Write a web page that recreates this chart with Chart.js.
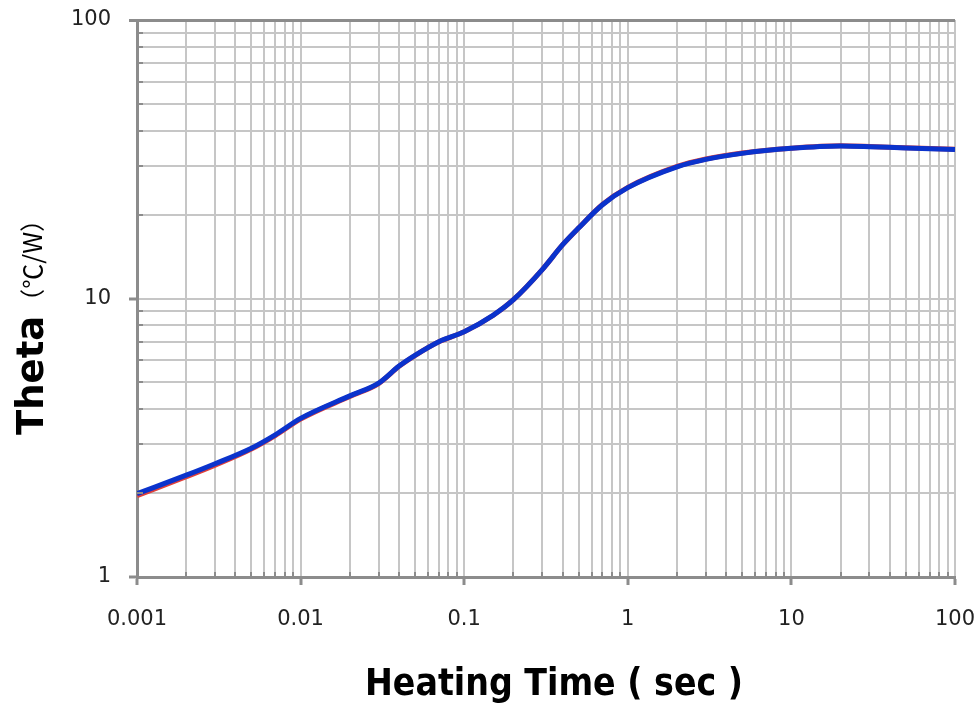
<!DOCTYPE html>
<html>
<head>
<meta charset="utf-8">
<script src="https://cdn.jsdelivr.net/npm/chart.js@4/dist/chart.umd.min.js"></script>
<style>
  html, body { margin: 0; padding: 0; background: #fff; }
</style>
</head>
<body>
<canvas id="thetaChart" width="980" height="707"></canvas>
<script>
// values (log-log)
const heatingTime = [0.001, 0.002, 0.003, 0.005, 0.007, 0.01, 0.02, 0.03, 0.04, 0.05, 0.07, 0.1, 0.15, 0.2, 0.3, 0.4, 0.5, 0.7, 1, 2, 3, 5, 10, 20, 30, 50, 100];
const thetaBlue = [1.99, 2.32, 2.55, 2.9, 3.24, 3.71, 4.47, 4.97, 5.72, 6.25, 7.0, 7.6, 8.7, 9.9, 12.7, 15.6, 17.9, 21.7, 25.0, 29.7, 31.6, 33.2, 34.6, 35.3, 35.1, 34.7, 34.3];
const thetaRed = [1.96, 2.29, 2.52, 2.88, 3.22, 3.69, 4.45, 4.95, 5.71, 6.24, 6.99, 7.59, 8.69, 9.9, 12.7, 15.6, 17.9, 21.75, 25.05, 29.8, 31.7, 33.3, 34.65, 35.35, 35.15, 34.75, 34.35];
const xTickLabels = ["0.001", "0.01", "0.1", "1", "10", "100"];
const yTickLabels = ["1", "10", "100"];
const xTitle = "Heating Time ( sec )";
const yTitle = "Theta";
const yUnit = "（℃/W）";

const AXIS = "#8c8c8c";
const GRID = "#c6c6c6";

function decadeLabel(v, labels) {
  const hit = labels.find(l => Math.abs(Math.log10(v) - Math.log10(Number(l))) < 1e-6);
  return hit === undefined ? null : hit;
}

// 1..9 per decade, between the labelled decades
function logTicks(labels) {
  const dec = labels.map(Number);
  const out = [];
  dec.forEach((d, i) => {
    out.push({ value: d });
    if (i < dec.length - 1) {
      for (let k = 2; k <= 9; k++) out.push({ value: d * k });
    }
  });
  return out;
}

const toPoints = ys => heatingTime.map((t, i) => ({ x: t, y: ys[i] }));

// little inward ticks on the axes + the axis titles
const extrasPlugin = {
  id: "extras",
  afterDraw(chart) {
    const { ctx, chartArea, scales } = chart;
    ctx.save();
    ctx.strokeStyle = AXIS;
    ctx.lineWidth = 2;
    scales.x.ticks.forEach(t => {
      if (decadeLabel(t.value, xTickLabels)) return;
      const px = Math.round(scales.x.getPixelForValue(t.value));
      ctx.beginPath();
      ctx.moveTo(px, chartArea.bottom);
      ctx.lineTo(px, chartArea.bottom - 5);
      ctx.stroke();
    });
    scales.y.ticks.forEach(t => {
      if (decadeLabel(t.value, yTickLabels)) return;
      const py = Math.round(scales.y.getPixelForValue(t.value));
      ctx.beginPath();
      ctx.moveTo(chartArea.left, py);
      ctx.lineTo(chartArea.left + 6, py);
      ctx.stroke();
    });

    ctx.fillStyle = "#000";
    ctx.textBaseline = "alphabetic";
    ctx.textAlign = "center";
    ctx.font = 'bold 37px "DejaVu Sans Condensed", "DejaVu Sans"';
    ctx.fillText(xTitle, (chartArea.left + chartArea.right) / 2 + 8, chartArea.bottom + 118);

    ctx.translate(43, chartArea.bottom - 142);
    ctx.rotate(-Math.PI / 2);
    ctx.textAlign = "left";
    ctx.font = 'bold 37px "DejaVu Sans"';
    ctx.fillText(yTitle, 0, 0);
    const w = ctx.measureText(yTitle).width;
    ctx.font = '25px "Noto Sans CJK SC"';
    ctx.fillText(yUnit, w + 2, -1);
    ctx.restore();
  }
};

const tickFont = { family: "DejaVu Sans", size: 21 };

new Chart(document.getElementById("thetaChart").getContext("2d"), {
  type: "line",
  data: {
    datasets: [
      {
        label: "Theta",
        data: toPoints(thetaBlue),
        borderColor: "#0b33cc",
        borderWidth: 5,
        pointRadius: 0,
        cubicInterpolationMode: "monotone",
        order: 0
      },
      {
        label: "Theta (ref)",
        data: toPoints(thetaRed),
        borderColor: "#e0403a",
        borderWidth: 5,
        pointRadius: 0,
        cubicInterpolationMode: "monotone",
        order: 1
      }
    ]
  },
  options: {
    responsive: false,
    animation: false,
    devicePixelRatio: 1,
    layout: { padding: { top: 20, right: 25, left: 0, bottom: 0 } },
    plugins: {
      legend: { display: false },
      tooltip: { enabled: false }
    },
    scales: {
      x: {
        type: "logarithmic",
        min: Number(xTickLabels[0]),
        max: Number(xTickLabels[xTickLabels.length - 1]),
        afterBuildTicks: s => { s.ticks = logTicks(xTickLabels); },
        afterFit: s => { s.height = 130; s.paddingLeft = 0; s.paddingRight = 0; },
        border: { color: AXIS, width: 3 },
        grid: {
          color: GRID,
          lineWidth: 2,
          tickLength: 8,
          tickWidth: 3,
          tickColor: c => (c.tick && decadeLabel(c.tick.value, xTickLabels) ? AXIS : "rgba(0,0,0,0)")
        },
        ticks: {
          autoSkip: false,
          maxRotation: 0,
          padding: 22,
          color: "#222",
          font: tickFont,
          callback: v => decadeLabel(v, xTickLabels) || ""
        }
      },
      y: {
        type: "logarithmic",
        min: Number(yTickLabels[0]),
        max: Number(yTickLabels[yTickLabels.length - 1]),
        afterBuildTicks: s => { s.ticks = logTicks(yTickLabels); },
        afterFit: s => { s.width = 137; s.paddingTop = 0; s.paddingBottom = 0; },
        border: { color: AXIS, width: 3 },
        grid: {
          color: c => (c.tick && c.tick.value === Number(yTickLabels[yTickLabels.length - 1]) ? AXIS : GRID),
          lineWidth: c => (c.tick && c.tick.value === Number(yTickLabels[yTickLabels.length - 1]) ? 3 : 2),
          tickLength: 8,
          tickWidth: 3,
          tickColor: c => (c.tick && decadeLabel(c.tick.value, yTickLabels) ? AXIS : "rgba(0,0,0,0)")
        },
        ticks: {
          autoSkip: false,
          padding: 18,
          color: "#222",
          font: tickFont,
          callback: v => decadeLabel(v, yTickLabels) || ""
        }
      }
    }
  },
  plugins: [extrasPlugin]
});
</script>
</body>
</html>
